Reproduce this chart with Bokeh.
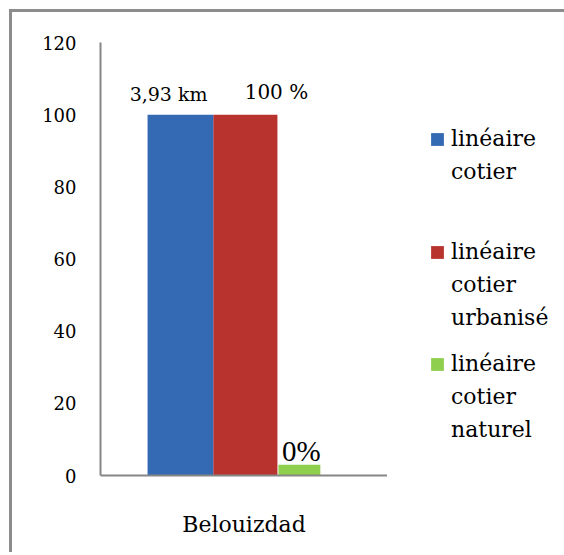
from bokeh.plotting import figure
from bokeh.models import (ColumnDataSource, FactorRange, FixedTicker, Legend, LegendItem, LabelSet)
from bokeh.layouts import row
from bokeh.transform import dodge
from bokeh.core.properties import value
from bokeh.embed import file_html
from bokeh.resources import INLINE

categories = ["Belouizdad"]
series = [["linéaire", "cotier"], ["linéaire", "cotier", "urbanisé"], ["linéaire", "cotier", "naturel"]]
values = [100, 100, 3]
bar_labels = ["3,93 km", "100 %", "0%"]
y_ticks = [0, 20, 40, 60, 80, 100, 120]

colors = ["#3469b3", "#b9332e", "#8fcf4e"]
offsets = [-0.221, 0.005, 0.193]
widths = [0.23, 0.223, 0.146]
label_dx = [-12, 31, 2]
label_dy = [14, 16, 4]
label_font = ["DejaVu Serif", "DejaVu Serif", "Liberation Serif"]
label_size = ["19px", "20px", "29px"]

p = figure(x_range=FactorRange(*categories, range_padding=0), y_range=(0, 120),
           width=375, height=540,
           min_border_left=88, min_border_top=30, min_border_right=0, min_border_bottom=77,
           output_backend="svg", toolbar_location=None)
p.outline_line_color = None
p.xgrid.grid_line_color = None
p.ygrid.grid_line_color = None

for i in range(3):
    src = ColumnDataSource(dict(cat=categories, val=[values[i]]))
    p.vbar(x=dodge("cat", offsets[i], range=p.x_range), top="val", bottom=0,
           width=widths[i], source=src, fill_color=colors[i], line_color=None)

for i in range(3):
    s = ColumnDataSource(dict(cat=categories, val=[values[i]], text=[bar_labels[i]]))
    p.add_layout(LabelSet(x=dodge("cat", offsets[i], range=p.x_range), y="val", text="text", source=s,
                          x_offset=label_dx[i], y_offset=label_dy[i], text_align="center",
                          text_baseline="alphabetic", text_font=value(label_font[i]),
                          text_font_size=label_size[i], text_color="black"))

for ax in (p.xaxis[0], p.yaxis[0]):
    ax.axis_line_color = "#868686"
    ax.axis_line_width = 2
    ax.major_tick_line_color = None
    ax.minor_tick_line_color = None
    ax.major_label_text_font = "DejaVu Serif"
    ax.major_label_text_color = "black"
p.yaxis.ticker = FixedTicker(ticks=y_ticks)
p.yaxis.major_label_text_font_size = "18px"
p.yaxis.major_label_standoff = 18
p.xaxis.major_label_text_font_size = "22px"
p.xaxis.major_label_standoff = 30

# legend panel (swatches are zero-size, invisible bars; only their legend glyphs show)
q = figure(width=177, height=540, x_range=(0, 1), y_range=(0, 1),
           min_border_left=0, min_border_right=0, min_border_top=0, min_border_bottom=0,
           output_backend="svg", toolbar_location=None)
q.axis.visible = False
q.grid.visible = False
q.outline_line_color = None
blank = q.vbar(x=[0], top=[0], bottom=[0], width=0, fill_alpha=0, line_alpha=0)
leg_y = [287, 141, 29]
for i in range(3):
    sw = q.vbar(x=[0], top=[0], bottom=[0], width=0, fill_color=colors[i], line_color=None)
    items = [LegendItem(label=series[i][0], renderers=[sw])]
    items += [LegendItem(label=t, renderers=[blank]) for t in series[i][1:]]
    lg = Legend(items=items, location=(42, leg_y[i]), padding=0, margin=0, spacing=0,
                border_line_alpha=0, background_fill_alpha=0,
                glyph_width=16, glyph_height=16, label_standoff=6, label_height=33,
                label_text_font="DejaVu Serif", label_text_font_size="22px",
                label_text_color="black")
    q.add_layout(lg, "center")

layout = row(p, q, styles={"margin-left": "9px", "margin-top": "9px",
                           "border-top": "3px solid #8c8c8c", "border-left": "3px solid #8c8c8c"})

open("out.html", "w").write(file_html(layout, INLINE))
